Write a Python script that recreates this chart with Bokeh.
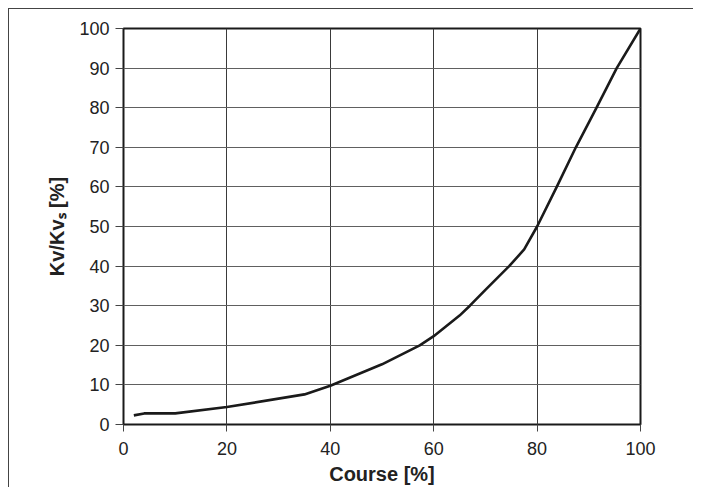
from bokeh.plotting import figure
from bokeh.models import FixedTicker
from bokeh.embed import file_html
from bokeh.resources import INLINE

course = [2, 4, 10, 20, 35, 40, 50, 57.3, 60, 65, 67, 70, 74.6, 77.5, 80, 83.8, 87.5, 91.5, 95.4, 100]
kv = [2.3, 2.8, 2.8, 4.4, 7.6, 9.8, 15.2, 20, 22.3, 27.5, 30, 34, 40, 44.2, 50, 60, 70, 80, 90, 100]
x_ticks = [0, 20, 40, 60, 80, 100]
y_ticks = [0, 10, 20, 30, 40, 50, 60, 70, 80, 90, 100]

FONT = "Liberation Sans"

p = figure(width=685, height=479, x_range=(0, 100), y_range=(0, 100),
           output_backend="svg", toolbar_location=None,
           min_border_left=114, min_border_right=54, min_border_top=19, min_border_bottom=64)
p.styles = {"margin-left": "8px", "margin-top": "8px",
            "border-left": "1px solid #444", "border-top": "1px solid #444"}

p.line(course, kv, line_color="#1a1a1a", line_width=2.6)

p.outline_line_color = "#1a1a1a"
p.outline_line_width = 2
p.outline_line_alpha = 1

p.xgrid.ticker = FixedTicker(ticks=x_ticks)
p.ygrid.ticker = FixedTicker(ticks=y_ticks)
p.xgrid.grid_line_color = "#3a3a3a"
p.ygrid.grid_line_color = "#606060"
p.xgrid.grid_line_width = 1
p.ygrid.grid_line_width = 1

for ax in (p.xaxis[0], p.yaxis[0]):
    ax.axis_line_color = None
    ax.minor_tick_line_color = None
    ax.major_tick_in = 0
    ax.major_tick_line_color = "#444444"
    ax.major_label_text_font = FONT
    ax.major_label_text_font_size = "18px"
    ax.major_label_text_color = "#222222"
    ax.axis_label_text_font = FONT
    ax.axis_label_text_font_size = "20px"
    ax.axis_label_text_font_style = "bold"
    ax.axis_label_text_color = "#222222"

p.xaxis.ticker = FixedTicker(ticks=x_ticks)
p.yaxis.ticker = FixedTicker(ticks=y_ticks)
p.xaxis.major_tick_out = 7
p.yaxis.major_tick_out = 8
p.xaxis.major_label_standoff = 10
p.yaxis.major_label_standoff = 6

p.xaxis.axis_label = "Course [%]"
p.xaxis.axis_label_standoff = 5
p.yaxis.axis_label = "Kv/Kv\u209b [%]"
p.yaxis.axis_label_standoff = 8

open("out.html", "w").write(file_html(p, INLINE))
